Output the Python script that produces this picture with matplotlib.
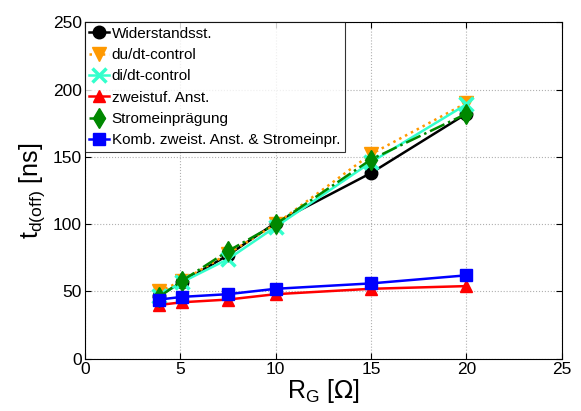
import matplotlib

matplotlib.use("Agg")
import matplotlib.pyplot as plt

plt.rcParams["font.family"] = ["Liberation Sans", "DejaVu Sans"]

# gate resistance [Ohm]
r_g = [3.9, 5.1, 7.5, 10, 15, 20]

# turn-off delay time [ns]
widerstand = [47, 57, 77, 101, 138, 182]
du_dt = [50, 58, 78, 100, 152, 190]
di_dt = [47, 57, 74, 98, 146, 189]
zweistuf = [40, 42, 44, 48, 52, 54]
stromein = [46, 58, 80, 100, 148, 182]
kombi = [44, 46, 48, 52, 56, 62]

labels = ["Widerstandsst.", "du/dt-control", "di/dt-control", "zweistuf. Anst.",
          "Stromeinprägung", "Komb. zweist. Anst. & Stromeinpr."]

fig, ax = plt.subplots(figsize=(5.81, 4.11), dpi=100)
fig.subplots_adjust(left=0.146, right=0.967, top=0.946, bottom=0.127)

ax.plot(r_g, widerstand, "-o", color="black", lw=1.8, ms=9, label=labels[0], zorder=3)
ax.plot(r_g, du_dt, ":v", color="#ff9900", lw=1.8, ms=10, label=labels[1], zorder=3)
ax.plot(r_g, di_dt, "-x", color="#33ffcc", lw=1.8, ms=10, mew=2.5, label=labels[2], zorder=3)
ax.plot(r_g, zweistuf, "-^", color="red", lw=1.8, ms=9, label=labels[3], zorder=3)
ax.plot(r_g, stromein, "-.d", color="#008800", lw=1.8, ms=10, label=labels[4], zorder=3)
ax.plot(r_g, kombi, "-s", color="blue", lw=1.8, ms=9, label=labels[5], zorder=3)

ax.set_xlim(0, 25)
ax.set_ylim(0, 250)
ax.set_xticks([0, 5, 10, 15, 20, 25])
ax.set_yticks([0, 50, 100, 150, 200, 250])
ax.tick_params(direction="in", labelsize=12.5, top=True, right=True, length=4, pad=2)
ax.grid(True, ls=":", color="#b0b0b0", lw=0.8)
ax.set_axisbelow(True)

ax.set_xlabel(r"R$_\mathregular{G}$ [$\Omega$]", fontsize=18, labelpad=0)
ax.set_ylabel(r"t$_\mathregular{d(off)}$ [ns]", fontsize=18, labelpad=4)

leg = ax.legend(loc="upper left", fontsize=11, frameon=True, fancybox=False,
                borderaxespad=0, handlelength=1.3, handletextpad=0.15,
                labelspacing=0.48, borderpad=0.3)
leg.get_frame().set_edgecolor("black")
leg.get_frame().set_linewidth(0.8)

fig.savefig("out.png", dpi=100)
